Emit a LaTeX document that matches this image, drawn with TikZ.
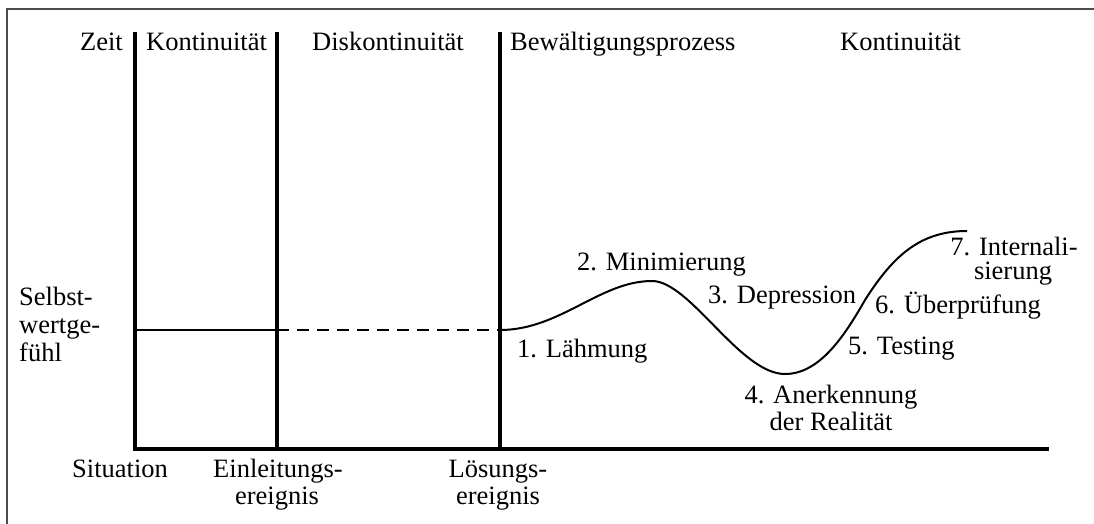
\documentclass[tikz,border=0pt]{standalone}
\usepackage{fontspec}
\setmainfont{Liberation Serif}
\begin{document}
\begin{tikzpicture}[x=1pt,y=-1pt,
  frame/.style={draw=black!70,line width=2pt},
  axisline/.style={line width=4.5pt},
  level/.style={line width=2.2pt},
  curveline/.style={line width=2pt},
  lbl/.style={font=\fontsize{26.5}{28}\selectfont,inner sep=0pt,anchor=base west},
  lblc/.style={lbl,anchor=base},
  lble/.style={lbl,anchor=base east}]
\useasboundingbox (0,0) rectangle (1094,524);
% frame
\draw[frame] (7,524) -- (7,9) -- (1094,9);
% axes and separators
\coordinate (o) at (135,449);
\coordinate (xend) at (1049,449);
\coordinate (t1) at (135,32);
\coordinate (b2) at (277,449);
\coordinate (t2) at (277,32);
\coordinate (b3) at (500,449);
\coordinate (t3) at (500,32);
\draw[axisline] (t1) -- (o) -- (xend);
\draw[axisline] (t2) -- (b2);
\draw[axisline] (t3) -- (b3);
% level line
\coordinate (l0) at (135,330);
\coordinate (l1) at (277,330);
\coordinate (l2) at (500,330);
\draw[level] (l0) -- (l1);
\draw[level,dash pattern=on 12pt off 8pt] (l1) -- (l2);
% curve
\draw[curveline] (l2) .. controls (560,330) and (600,281) .. (652,281)
  .. controls (690,281) and (740,374) .. (785,374)
  .. controls (820,374) and (845,335) .. (865,300)
  .. controls (893,256) and (920,231) .. (967,231);
% top labels
\node[lble] (zeit) at (123,51) {Zeit};
\node[lbl] (kont1) at (146,51) {Kontinuität};
\node[lbl] (diskont) at (312,51) {Diskontinuität};
\node[lbl] (bew) at (510,51) {Bewältigungsprozess};
\node[lbl] (kont2) at (840,51) {Kontinuität};
% y label
\node[lbl] (sw1) at (19,305) {Selbst-};
\node[lbl] (sw2) at (19,333) {wertge-};
\node[lbl] (sw3) at (19,361) {fühl};
% bottom labels
\node[lbl] (sit) at (72,477) {Situation};
\node[lblc] (ein1) at (278,477) {Einleitungs-};
\node[lblc] (ein2) at (277,504) {ereignis};
\node[lblc] (loe1) at (498,477) {Lösungs-};
\node[lblc] (loe2) at (498,504) {ereignis};
% phase labels
\node[lbl] (p1) at (517,357) {1. Lähmung};
\node[lbl] (p2) at (577,270) {2. Minimierung};
\node[lbl] (p3) at (708,303) {3. Depression};
\node[lblc] (p4a) at (831,403) {4. Anerkennung};
\node[lblc] (p4b) at (831,430) {der Realität};
\node[lbl] (p5) at (848,354) {5. Testing};
\node[lbl] (p6) at (875,313) {6. Überprüfung};
\node[lblc] (p7a) at (1014,255) {7. Internali-};
\node[lblc] (p7b) at (1013,279) {sierung};
\end{tikzpicture}
\end{document}
